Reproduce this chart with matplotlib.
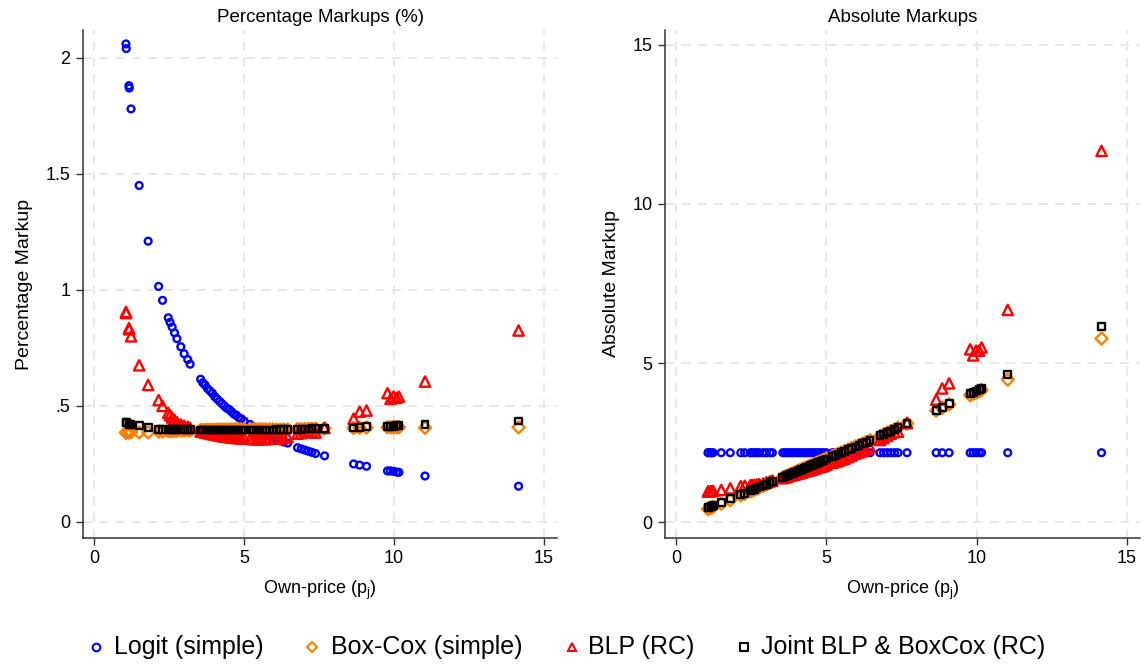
import matplotlib
matplotlib.use("Agg")
import matplotlib.pyplot as plt
from matplotlib.lines import Line2D

plt.rcParams['font.family'] = ['Liberation Sans', 'DejaVu Sans']
plt.rcParams['mathtext.default'] = 'regular'

# own prices of the products
price = [1.06, 1.07, 1.16, 1.17, 1.23, 1.50, 1.80, 2.15, 2.28, 2.47,
         2.53, 2.60, 2.68, 2.76, 2.89, 3.00, 3.12, 3.20, 3.55, 3.62,
         3.70, 3.78, 3.86, 3.94, 4.02, 4.10, 4.18, 4.26, 4.34, 4.42,
         4.50, 4.58, 4.66, 4.74, 4.82, 4.90, 5.00, 5.20, 5.30, 5.40,
         5.50, 5.60, 5.72, 5.84, 5.96, 6.08, 6.20, 6.32, 6.45, 6.78,
         6.90, 7.02, 7.14, 7.26, 7.38, 7.68, 8.65, 8.85, 9.08, 9.78,
         9.88, 9.98, 10.08, 10.16, 11.03, 14.15]

# percentage markups
logit_pct = [2.06, 2.04, 1.88, 1.87, 1.78, 1.45, 1.21, 1.015, 0.955, 0.88,
             0.86, 0.84, 0.815, 0.79, 0.755, 0.725, 0.70, 0.68, 0.615, 0.60,
             0.59, 0.575, 0.565, 0.555, 0.54, 0.53, 0.52, 0.51, 0.50, 0.49,
             0.485, 0.475, 0.465, 0.46, 0.45, 0.445, 0.435, 0.42, 0.41, 0.405,
             0.395, 0.39, 0.38, 0.375, 0.365, 0.36, 0.35, 0.345, 0.34, 0.32,
             0.315, 0.31, 0.305, 0.30, 0.295, 0.285, 0.25, 0.245, 0.24, 0.22,
             0.22, 0.218, 0.215, 0.214, 0.198, 0.154]
boxcox_pct = [0.385, 0.385, 0.386, 0.386, 0.387, 0.386, 0.386, 0.39, 0.39, 0.392,
              0.392, 0.392, 0.393, 0.393, 0.394, 0.394, 0.395, 0.395, 0.396, 0.396,
              0.396, 0.397, 0.397, 0.397, 0.397, 0.398, 0.398, 0.398, 0.398, 0.398,
              0.398, 0.398, 0.399, 0.399, 0.399, 0.399, 0.399, 0.399, 0.399, 0.399,
              0.399, 0.399, 0.399, 0.399, 0.399, 0.398, 0.398, 0.398, 0.398, 0.40,
              0.40, 0.40, 0.401, 0.401, 0.402, 0.403, 0.405, 0.406, 0.407, 0.408,
              0.408, 0.408, 0.408, 0.408, 0.406, 0.408]
blp_pct = [0.905, 0.90, 0.835, 0.83, 0.80, 0.675, 0.59, 0.525, 0.50, 0.47,
           0.46, 0.45, 0.44, 0.43, 0.42, 0.415, 0.41, 0.405, 0.39, 0.388,
           0.385, 0.383, 0.38, 0.378, 0.376, 0.374, 0.372, 0.37, 0.368, 0.367,
           0.365, 0.364, 0.363, 0.362, 0.361, 0.36, 0.36, 0.358, 0.357, 0.356,
           0.356, 0.356, 0.357, 0.358, 0.36, 0.36, 0.36, 0.362, 0.365, 0.38,
           0.383, 0.386, 0.389, 0.39, 0.385, 0.405, 0.445, 0.475, 0.48, 0.555,
           0.53, 0.54, 0.535, 0.54, 0.605, 0.825]
joint_pct = [0.428, 0.427, 0.422, 0.421, 0.42, 0.414, 0.407, 0.40, 0.40, 0.399,
             0.399, 0.398, 0.398, 0.398, 0.397, 0.397, 0.397, 0.397, 0.396, 0.396,
             0.396, 0.396, 0.396, 0.396, 0.396, 0.396, 0.396, 0.396, 0.396, 0.396,
             0.396, 0.396, 0.396, 0.396, 0.396, 0.396, 0.396, 0.396, 0.396, 0.396,
             0.396, 0.396, 0.396, 0.396, 0.396, 0.397, 0.397, 0.397, 0.397, 0.40,
             0.40, 0.401, 0.401, 0.402, 0.402, 0.404, 0.405, 0.407, 0.41, 0.412,
             0.413, 0.413, 0.414, 0.414, 0.42, 0.435]

# absolute markups
logit_abs = [2.18, 2.18, 2.18, 2.18, 2.18, 2.18, 2.18, 2.18, 2.18, 2.18,
             2.18, 2.18, 2.18, 2.18, 2.18, 2.18, 2.18, 2.18, 2.18, 2.18,
             2.18, 2.18, 2.18, 2.18, 2.18, 2.18, 2.18, 2.18, 2.18, 2.18,
             2.18, 2.18, 2.18, 2.18, 2.18, 2.18, 2.18, 2.18, 2.18, 2.18,
             2.18, 2.18, 2.18, 2.18, 2.18, 2.18, 2.18, 2.18, 2.18, 2.18,
             2.18, 2.18, 2.18, 2.18, 2.18, 2.18, 2.18, 2.18, 2.18, 2.18,
             2.18, 2.18, 2.18, 2.18, 2.18, 2.18]
boxcox_abs = [0.41, 0.41, 0.45, 0.45, 0.48, 0.58, 0.69, 0.84, 0.89, 0.97,
              0.99, 1.02, 1.05, 1.08, 1.14, 1.18, 1.23, 1.26, 1.41, 1.43,
              1.47, 1.50, 1.53, 1.56, 1.60, 1.63, 1.66, 1.70, 1.73, 1.76,
              1.79, 1.82, 1.86, 1.89, 1.92, 1.96, 2.00, 2.07, 2.11, 2.15,
              2.19, 2.23, 2.28, 2.33, 2.38, 2.42, 2.47, 2.52, 2.57, 2.71,
              2.76, 2.81, 2.86, 2.91, 2.97, 3.10, 3.50, 3.59, 3.70, 3.99,
              4.03, 4.07, 4.11, 4.15, 4.48, 5.77]
blp_abs = [0.96, 0.96, 0.97, 0.97, 0.98, 1.01, 1.06, 1.13, 1.14, 1.16,
           1.16, 1.17, 1.18, 1.19, 1.21, 1.25, 1.28, 1.30, 1.38, 1.40,
           1.42, 1.45, 1.47, 1.49, 1.51, 1.53, 1.55, 1.58, 1.60, 1.62,
           1.64, 1.67, 1.69, 1.72, 1.74, 1.76, 1.80, 1.86, 1.89, 1.92,
           1.96, 1.99, 2.04, 2.09, 2.15, 2.19, 2.23, 2.29, 2.35, 2.58,
           2.64, 2.71, 2.78, 2.83, 2.84, 3.11, 3.85, 4.20, 4.36, 5.43,
           5.24, 5.39, 5.39, 5.49, 6.67, 11.67]
joint_abs = [0.45, 0.46, 0.49, 0.49, 0.52, 0.62, 0.73, 0.86, 0.91, 0.99,
             1.01, 1.03, 1.07, 1.10, 1.15, 1.19, 1.24, 1.27, 1.41, 1.43,
             1.47, 1.50, 1.53, 1.56, 1.59, 1.62, 1.66, 1.69, 1.72, 1.75,
             1.78, 1.81, 1.85, 1.88, 1.91, 1.94, 1.98, 2.06, 2.10, 2.14,
             2.18, 2.22, 2.27, 2.31, 2.36, 2.41, 2.46, 2.51, 2.56, 2.71,
             2.76, 2.82, 2.86, 2.92, 2.97, 3.10, 3.50, 3.60, 3.72, 4.03,
             4.08, 4.12, 4.17, 4.21, 4.63, 6.16]

labels = ['Logit (simple)', 'Box-Cox (simple)', 'BLP (RC)', 'Joint BLP & BoxCox (RC)']
colors = ['#0000ff', '#ff8000', '#ff0000', '#000000']
markers = ['o', 'D', '^', 's']
sizes = [24, 38, 55, 24]

W, H = 1147, 664
fig = plt.figure(figsize=(W / 100, H / 100), dpi=100)
ax1 = fig.add_axes([0.0724, 0.1898, 0.4132, 0.765])
ax2 = fig.add_axes([0.5798, 0.1898, 0.4141, 0.765])

panels = [
    (ax1, [logit_pct, boxcox_pct, blp_pct, joint_pct], 'Percentage Markups (%)',
     'Percentage Markup', [0, 0.5, 1, 1.5, 2], ['0', '.5', '1', '1.5', '2'], (-0.069, 2.12)),
    (ax2, [logit_abs, boxcox_abs, blp_abs, joint_abs], 'Absolute Markups',
     'Absolute Markup', [0, 5, 10, 15], ['0', '5', '10', '15'], (-0.5, 15.47)),
]

for ax, series, title, ylab, yt, ytl, ylim in panels:
    for vals, c, m, s, lab in zip(series, colors, markers, sizes, labels):
        ax.scatter(price, vals, s=s, marker=m, facecolors='none',
                   edgecolors=c, linewidths=1.7, label=lab, zorder=3)
    ax.set_xlim(-0.37, 15.43)
    ax.set_ylim(*ylim)
    ax.set_xticks([0, 5, 10, 15])
    ax.set_yticks(yt)
    ax.set_yticklabels(ytl)
    ax.grid(True, color='#e6e6e6', linestyle=(0, (5, 4)), linewidth=1.3, zorder=0)
    ax.spines['top'].set_visible(False)
    ax.spines['right'].set_visible(False)
    for sp in ['left', 'bottom']:
        ax.spines[sp].set_color('#333333')
        ax.spines[sp].set_linewidth(1.1)
    ax.tick_params(direction='out', length=5, width=1.0, colors='#333333',
                   labelcolor='black', labelsize=13, pad=4)
    ax.set_title(title, fontsize=13.5, pad=6)
    ax.set_ylabel(ylab, fontsize=14, labelpad=9)
    ax.set_xlabel('Own-price (p$_{j}$)', fontsize=13, labelpad=8)

# legend row at the bottom
leg_marker_x = [96, 312, 572, 744]
leg_text_x = [114, 331, 588, 761]
leg_y = 1 - 647 / H
for mx, tx, c, m, lab in zip(leg_marker_x, leg_text_x, colors, markers, labels):
    fig.add_artist(Line2D([mx / W], [leg_y], transform=fig.transFigure, marker=m,
                          markersize=5.5, markerfacecolor='none', markeredgecolor=c,
                          markeredgewidth=1.5, linestyle='none'))
    fig.text(tx / W, leg_y, lab, fontsize=18, va='center', ha='left')

fig.savefig('out.png', dpi=100)
